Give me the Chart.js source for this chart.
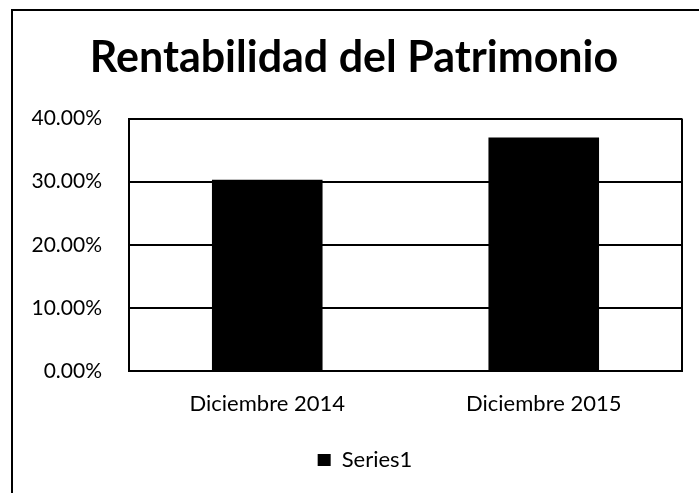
<!DOCTYPE html>
<html>
<head>
<meta charset="utf-8">
<script src="https://cdn.jsdelivr.net/npm/chart.js@4"></script>
<style>
  html, body { margin: 0; padding: 0; background: #fff; overflow: hidden; }
  #wrap { position: relative; width: 699px; height: 493px; }
  #frame { position: absolute; left: 11px; top: 9px; width: 800px; height: 600px; border: 2px solid #000; }
  canvas { position: absolute; left: 0; top: 0; }
</style>
</head>
<body>
<div id="wrap">
  <div id="frame"></div>
  <canvas id="myChart" width="699" height="493"></canvas>
</div>
<script>
const categories = ["Diciembre 2014", "Diciembre 2015"];
const series1 = [0.303, 0.37];
const yTicks = [0, 0.1, 0.2, 0.3, 0.4];

const ctx = document.getElementById("myChart");
new Chart(ctx, {
  type: "bar",
  data: {
    labels: categories,
    datasets: [
      {
        label: "Series1",
        data: series1,
        backgroundColor: "#000",
        borderWidth: 0,
        barPercentage: 0.4,
        categoryPercentage: 1,
      },
    ],
  },
  options: {
    responsive: false,
    animation: false,
    layout: {
      padding: { left: 12, right: 17, top: 0, bottom: 12 },
    },
    plugins: {
      title: {
        display: true,
        text: "Rentabilidad del Patrimonio",
        color: "#000",
        font: { family: "Lato", size: 43, weight: "bold" },
        padding: { top: 32, bottom: 35 },
      },
      legend: {
        display: true,
        position: "bottom",
        labels: {
          color: "#000",
          font: { family: "Lato", size: 22 },
          boxWidth: 13,
          boxHeight: 12,
          padding: 10,
        },
      },
      tooltip: { enabled: false },
    },
    scales: {
      y: {
        min: 0,
        max: 0.4,
        afterBuildTicks: function (axis) {
          axis.ticks = yTicks.map(function (v) { return { value: v }; });
        },
        afterFit: function (axis) {
          axis.width = 117;
        },
        ticks: {
          color: "#000",
          font: { family: "Lato", size: 21 },
          padding: 27,
          callback: function (v) {
            return (v * 100).toFixed(2) + "%";
          },
        },
        grid: {
          color: "#000",
          lineWidth: 2,
          drawTicks: false,
        },
        border: { display: true, color: "#000", width: 2 },
      },
      x: {
        afterFit: function (axis) {
          axis.height = 68;
        },
        ticks: {
          color: "#000",
          font: { family: "Lato", size: 22 },
          padding: 20,
        },
        grid: {
          display: false,
          drawTicks: false,
        },
        border: { display: true, color: "#000", width: 2 },
      },
    },
  },
  plugins: [
    {
      // nudge title and legend to the right like the original
      id: "shiftBlocks",
      afterLayout: function (chart) {
        if (chart.titleBlock) {
          chart.titleBlock.left += 7;
          chart.titleBlock.right += 7;
        }
        if (chart.legend) {
          chart.legend.left += 18;
          chart.legend.right += 18;
        }
      },
    },
    {
      id: "rightEdge",
      afterDraw: function (chart) {
        const a = chart.chartArea;
        const c = chart.ctx;
        c.save();
        c.strokeStyle = "#000";
        c.lineWidth = 2;
        c.beginPath();
        c.moveTo(a.right, a.top);
        c.lineTo(a.right, a.bottom);
        c.stroke();
        c.restore();
      },
    },
  ],
});
</script>
</body>
</html>
